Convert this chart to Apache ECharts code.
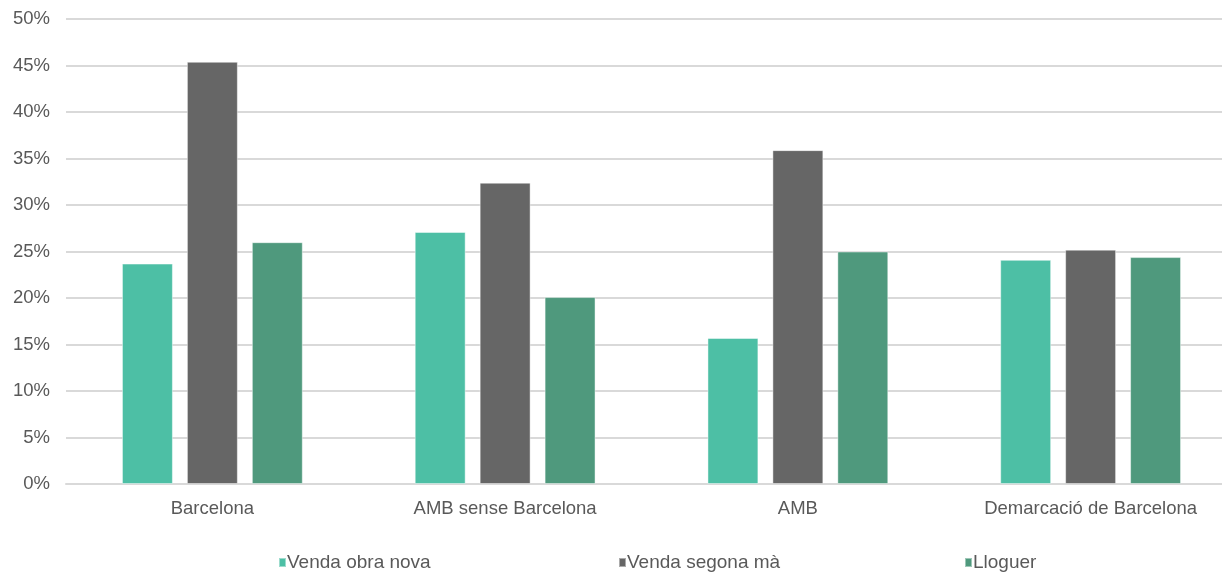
<!DOCTYPE html>
<html>
<head>
<meta charset="utf-8">
<script src="https://cdn.jsdelivr.net/npm/echarts@6/dist/echarts.min.js"></script>
<style>
  html, body { margin: 0; padding: 0; background: #ffffff; overflow: hidden; }
  #chart { width: 1222px; height: 572px; }
</style>
</head>
<body>
<div id="chart"></div>
<script>
// Territorial areas on the category axis
const categories = ['Barcelona', 'AMB sense Barcelona', 'AMB', 'Demarcació de Barcelona'];

// Share (%) per area for each market segment
const obraNova = [23.7, 27.1, 15.7, 24.1];
const segonaMa = [45.4, 32.4, 35.9, 25.2];
const lloguer = [26.0, 20.1, 25.0, 24.4];

const seriesNames = ['Venda obra nova', 'Venda segona mà', 'Lloguer'];
const seriesColors = ['#4dbfa5', '#666666', '#4f997d'];

const FONT = '"Liberation Sans", Arial, sans-serif';
const TEXT_COLOR = '#595959';

const chart = echarts.init(document.getElementById('chart'), null, { renderer: 'canvas' });

function barSeries(idx, values) {
  return {
    name: seriesNames[idx],
    type: 'bar',
    data: values,
    barWidth: '17.4%',
    barGap: '27.5%',
    itemStyle: {
      color: seriesColors[idx],
      borderColor: 'rgba(255,255,255,0.45)',
      borderWidth: 1
    },
    emphasis: { disabled: true }
  };
}

function legendAt(idx, left) {
  return {
    data: [seriesNames[idx]],
    left: left,
    top: 553,
    padding: 0,
    itemWidth: 7,
    itemHeight: 9,
    icon: 'rect',
    textStyle: { fontFamily: FONT, fontSize: 19, color: TEXT_COLOR, padding: [0, 0, 0, -4] },
    selectedMode: false
  };
}

chart.setOption({
  animation: false,
  // plot area runs past the right edge of the canvas
  grid: {
    left: 66, width: 1171, top: 19, bottom: 88,
    containLabel: false,
    outerBoundsMode: 'none'
  },
  legend: [legendAt(0, 278), legendAt(1, 618), legendAt(2, 964)],
  xAxis: {
    type: 'category',
    data: categories,
    axisLine: { show: true, lineStyle: { color: '#d9d9d9', width: 2 } },
    axisTick: { show: false },
    axisLabel: { fontFamily: FONT, fontSize: 18.5, color: TEXT_COLOR, margin: 15 }
  },
  yAxis: {
    type: 'value',
    min: 0,
    max: 50,
    interval: 5,
    axisLine: { show: false },
    axisTick: { show: false },
    axisLabel: {
      fontFamily: FONT,
      fontSize: 18.5,
      color: TEXT_COLOR,
      margin: 16,
      formatter: '{value}%'
    },
    splitLine: { lineStyle: { color: '#d9d9d9', width: 2 } }
  },
  series: [barSeries(0, obraNova), barSeries(1, segonaMa), barSeries(2, lloguer)]
});
</script>
</body>
</html>
